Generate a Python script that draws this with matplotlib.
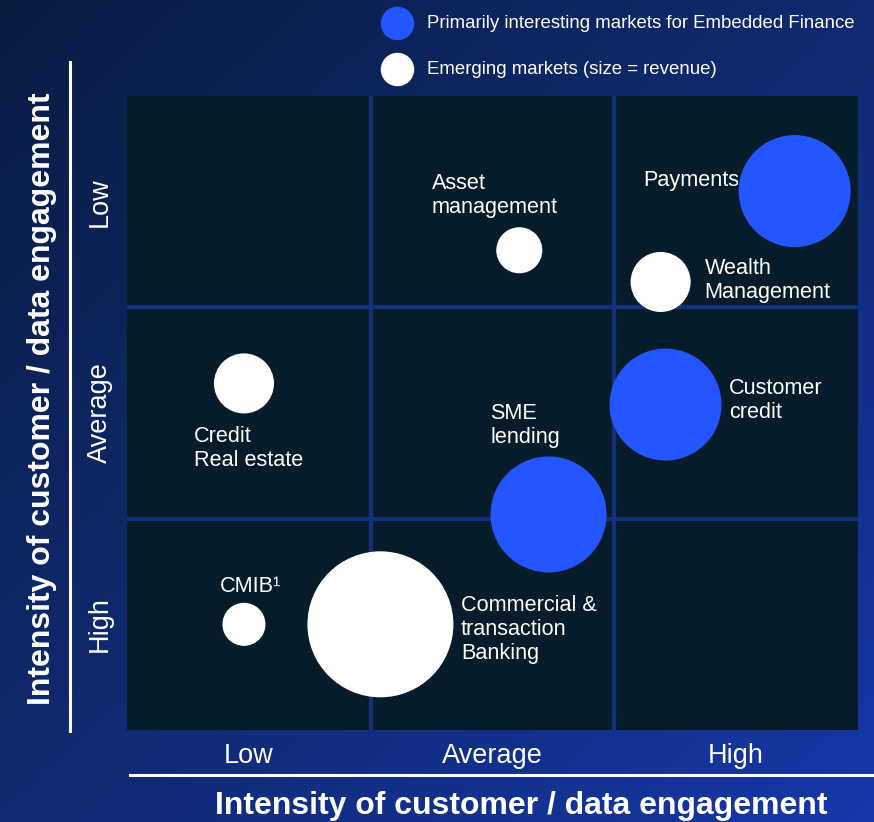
import numpy as np
import matplotlib
matplotlib.use("Agg")
import matplotlib.pyplot as plt
from matplotlib.colors import LinearSegmentedColormap
from matplotlib.lines import Line2D

plt.rcParams['font.family'] = ['Liberation Sans', 'DejaVu Sans']

# ---------------- data ----------------
markets = ["Payments", "Wealth\nManagement", "Asset\nmanagement", "Credit\nReal estate",
           "Customer\ncredit", "SME\nlending", "CMIB\u00b9", "Commercial &\ntransaction\nBanking"]
data_engagement = [2.74, 2.19, 1.61, 0.48, 2.21, 1.73, 0.48, 1.04]      # x (0-3 scale)
customer_engagement = [0.45, 0.88, 0.73, 1.36, 1.46, 1.98, 2.50, 2.50]  # y (0=top)
revenue = [6500, 1870, 1100, 1870, 6500, 6980, 960, 11050]             # bubble area
primary = [True, False, False, False, True, True, False, False]
levels = ["Low", "Average", "High"]
axis_title = "Intensity of customer / data engagement"
legend_labels = ["Primarily interesting markets for Embedded Finance",
                 "Emerging markets (size = revenue)"]

# label anchor positions (data coords, left aligned)
label_x = [2.12, 2.37, 1.25, 0.275, 2.47, 1.49, 0.38, 1.37]
label_y = [0.40, 0.875, 0.47, 1.67, 1.44, 1.56, 2.32, 2.525]

BLUE = "#2356ff"
WHITE = "#ffffff"
CELL = "#061c2b"
GAP = "#13307c"

W, H = 874, 822
fig = plt.figure(figsize=(W / 100, H / 100), dpi=100)

# ---------------- gradient background ----------------
bg = fig.add_axes([0, 0, 1, 1])
bg.set_xlim(0, 1)
bg.set_ylim(0, 1)
bg.axis("off")
gx, gy = np.meshgrid(np.linspace(0, 1, 300), np.linspace(0, 1, 300))
grad = 0.5 * gx + 0.5 * gy  # row 0 is top: 0 top-left -> 1 bottom-right
cmap = LinearSegmentedColormap.from_list("bg", ["#0a1c42", "#0f2a70", "#1638a8"])
bg.imshow(grad, cmap=cmap, extent=[0, 1, 0, 1], origin="upper", aspect="auto", zorder=0)

# white guide lines
bg.add_line(Line2D([130 / W, 1.0], [1 - 775 / H, 1 - 775 / H], color="white", lw=2.2))
bg.add_line(Line2D([70 / W, 70 / W], [1 - 62 / H, 1 - 731 / H], color="white", lw=2.2))

# legend
bg.scatter([397 / W], [1 - 23 / H], s=580, color=BLUE, linewidths=0, zorder=3)
bg.scatter([397 / W], [1 - 69 / H], s=580, color=WHITE, linewidths=0, zorder=3)
bg.text(427 / W, 1 - 23 / H, legend_labels[0], color="white", fontsize=13.4,
        va="center", ha="left")
bg.text(427 / W, 1 - 69 / H, legend_labels[1], color="white", fontsize=13.4,
        va="center", ha="left")

# axis titles
fig.text(521 / W, 1 - 806 / H, axis_title, color="white", fontsize=23,
         fontweight="bold", ha="center", va="center")
fig.text(42 / W, 1 - 399 / H, axis_title, color="white", fontsize=23,
         fontweight="bold", ha="center", va="center", rotation=90)

# ---------------- main matrix ----------------
ax = fig.add_axes([127 / W, 1 - 730 / H, (858 - 127) / W, (730 - 96) / H])
ax.set_facecolor(CELL)
ax.set_xlim(0, 3)
ax.set_ylim(3, 0)
for s in ax.spines.values():
    s.set_visible(False)
for v in (1, 2):
    ax.axvline(v, color=GAP, lw=3.0, zorder=1)
    ax.axhline(v, color=GAP, lw=3.0, zorder=1)

ax.set_xticks([0.5, 1.5, 2.5], levels)
ax.set_yticks([0.5, 1.5, 2.5], levels, rotation=90, va="center")
ax.tick_params(length=0, labelsize=19.5, labelcolor="white")
ax.tick_params(axis="x", pad=9)
ax.tick_params(axis="y", pad=10)

colors = [BLUE if p else WHITE for p in primary]
ax.scatter(data_engagement, customer_engagement, s=revenue, c=colors,
           linewidths=0, zorder=3, clip_on=False)

for name, lx, ly in zip(markets, label_x, label_y):
    ax.text(lx, ly, name, color="white", fontsize=15.6, ha="left", va="center",
            linespacing=1.18, zorder=4)

fig.savefig("out.png", dpi=100)
